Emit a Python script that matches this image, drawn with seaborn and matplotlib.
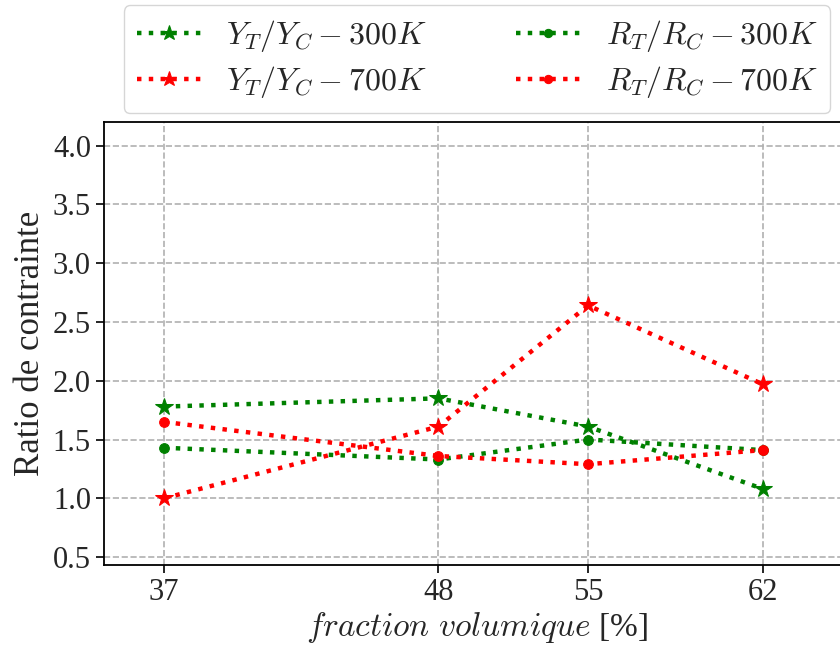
import matplotlib
matplotlib.use("Agg")
import matplotlib.pyplot as plt
import pandas as pd
import seaborn as sns

# Données
fraction_pos = [37, 48, 54, 61]
fraction_labels = ["37", "48", "55", "62"]

yt_yc_300 = [1.78, 1.85, 1.61, 1.08]
yt_yc_700 = [1.00, 1.61, 2.64, 1.97]
rt_rc_300 = [1.43, 1.33, 1.50, 1.41]
rt_rc_700 = [1.65, 1.36, 1.29, 1.41]

series = [
    (r"$Y_T/Y_C - 300K$", yt_yc_300, "green", "*", 13),
    (r"$Y_T/Y_C - 700K$", yt_yc_700, "red", "*", 13),
    (r"$R_T/R_C - 300K$", rt_rc_300, "green", "o", 7),
    (r"$R_T/R_C - 700K$", rt_rc_700, "red", "o", 7),
]

sns.set_style("ticks")
plt.rcParams["font.family"] = ["Liberation Serif", "DejaVu Serif"]
plt.rcParams["mathtext.fontset"] = "cm"

fig = plt.figure(figsize=(8.4, 6.49), dpi=100)
ax = fig.add_axes([0.124, 0.130, 0.888, 0.682])

for label, vals, color, marker, ms in series:
    df = pd.DataFrame({"x": fraction_pos, "y": vals})
    sns.lineplot(data=df, x="x", y="y", ax=ax, color=color, marker=marker,
                 markersize=ms, markeredgecolor=color, linestyle=":",
                 linewidth=3.2, label=label, sort=False)

ax.set_xlim(34.6, 64.5)
ax.set_ylim(0.436, 4.2)
ax.set_xticks(fraction_pos)
ax.set_xticklabels(fraction_labels)
ax.set_yticks([0.5, 1.0, 1.5, 2.0, 2.5, 3.0, 3.5, 4.0])
ax.tick_params(axis="both", labelsize=22, length=6, width=1.2, color="black")
ax.grid(True, color="#b0b0b0", linestyle="--", linewidth=1.2)

for side in ["left", "bottom", "top", "right"]:
    ax.spines[side].set_color("black")
    ax.spines[side].set_linewidth(1.3)

ax.set_ylabel("Ratio de contrainte", fontsize=25, labelpad=4)
ax.set_xlabel(r"$fraction\ volumique$ [%]", fontsize=24, labelpad=2)

ax.legend(loc="lower center", bbox_to_anchor=(0.5, 1.02), ncol=2,
          fontsize=23, frameon=True, edgecolor="#cccccc", fancybox=True,
          handlelength=2.0, columnspacing=2.8, borderaxespad=0.0,
          labelspacing=0.32, borderpad=0.4, markerscale=0.85)

fig.savefig("out.png", dpi=100)
